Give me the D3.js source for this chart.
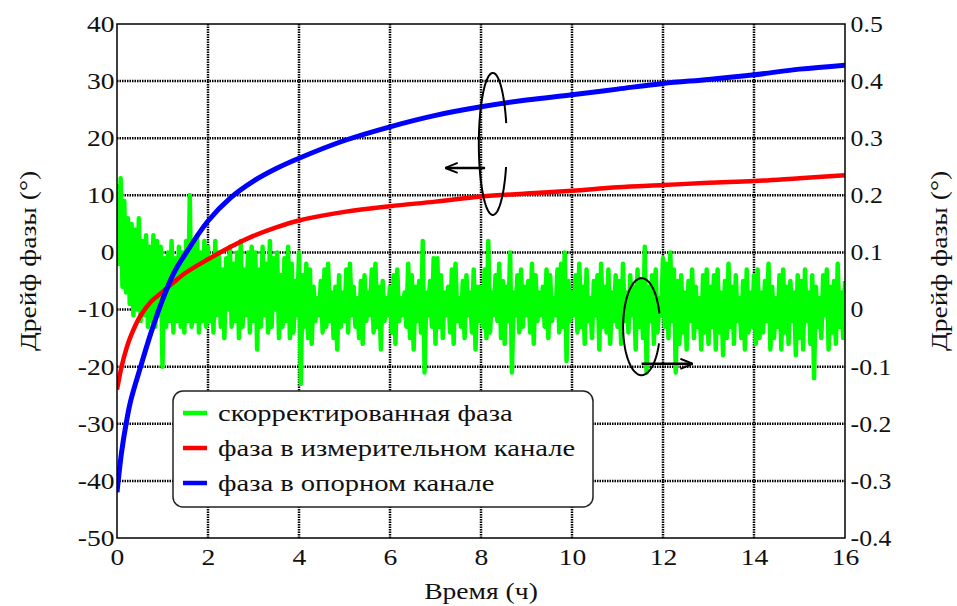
<!DOCTYPE html>
<html>
<head>
<meta charset="utf-8">
<script src="https://cdn.jsdelivr.net/npm/d3@7"></script>
<style>
  body { margin: 0; background: #fff; }
  text { font-family: "Liberation Serif", "Times New Roman", serif; fill: #111; }
</style>
</head>
<body>
<svg id="chart" width="957" height="606"></svg>
<script>
var width = 957, height = 606;
var margin = { top: 24, left: 117, right: 112, bottom: 68 }
var w = width - margin.left - margin.right
var h = height - margin.top - margin.bottom

// x ticks (hours), left and right y ticks
var xTicks = [0, 2, 4, 6, 8, 10, 12, 14, 16]
var yTicks = [-50, -40, -30, -20, -10, 0, 10, 20, 30, 40]
var y2Ticks = [-0.4, -0.3, -0.2, -0.1, 0, 0.1, 0.2, 0.3, 0.4, 0.5]

var seriesNames = ["скорректированная фаза", "фаза в измерительном канале", "фаза в опорном канале"]
var seriesColors = ["#00ff00", "#ff0000", "#0000ff"]

// reference channel (blue) and measuring channel (red), read at these times
var smoothT = [0, 0.1, 0.2, 0.3, 0.5, 0.75, 1, 1.25, 1.5, 2, 2.5, 3, 3.5, 4, 5, 6, 7, 8, 9, 10, 11, 12, 13, 14, 15, 16]
var bluePhase = [-42, -35, -30, -26, -20.5, -14, -8.3, -3.6, -0.3, 5.5, 9.6, 12.5, 14.7, 16.5, 19.6, 22, 24, 25.5, 26.7, 27.6, 28.6, 29.6, 30.3, 31.1, 32.1, 32.8]
var redPhase = [-24, -20, -17, -14.7, -11.3, -8.6, -6.9, -5.2, -3.6, -1.2, 1, 2.9, 4.4, 5.6, 7.1, 8.1, 8.9, 9.8, 10.3, 10.8, 11.4, 11.8, 12.2, 12.5, 13, 13.5]

// corrected phase (green), one value every 0.04 h, one row per hour
var greenStep = 0.04
var greenPhase = [
  12, -2, 13, -6, 9, -7, 6, -9, 5, -11, 4, -10, 6, -12, 2, -11, 3, -13, 1, -12, 3, -13, 2, -11, 1,
  -20, -1, -13, 0, -12, 2, -14, -1, -12, 1, -13, 0, -14, 2, -12, 10, -13, 1, -12, 3, -14, 0, -12, 2, -13,
  1, -12, -1, -14, 2, -11, 0, -13, -3, -15, -1, -10, 1, -13, -2, -12, 0, -15, 2, -13, -3, -11, 0, -14, 1,
  -12, 0, -17, -3, -13, 1, -11, -2, -14, 2, -13, -1, -10, 0, -15, -4, -13, -1, -12, 1, -15, -2, -14, -5, -11,
  0, -23, -4, -13, -2, -15, -3, -16, -6, -12, -8, -11, -5, -14, -3, -13, -2, -12, -7, -15, -6, -17, -4, -13, -7,
  -12, -3, -14, -2, -11, -6, -13, -8, -15, -5, -16, -4, -12, -7, -11, -3, -14, -2, -13, -6, -17, -5, -12, -8, -11,
  -6, -14, -4, -16, -3, -12, -8, -11, -7, -13, -2, -15, -4, -17, -6, -12, -5, -14, 2, -21, -7, -11, -5, -13, -1,
  -16, -1, -13, -4, -15, -7, -11, -6, -14, -3, -16, -2, -12, -8, -13, -5, -15, -4, -11, -7, -14, -3, -17, -6, -12,
  -6, -13, -3, -15, 2, -14, -7, -11, -4, -12, -2, -15, -5, -16, -6, -12, 0, -21, -7, -11, -4, -14, -3, -13, -6,
  -11, -5, -14, -2, -16, -4, -12, -7, -11, -6, -13, -3, -15, -4, -12, -8, -11, -3, -14, -2, -13, 0, -19, -5, -12,
  -7, -11, -4, -14, -2, -13, -6, -16, -3, -12, -8, -15, -5, -11, -4, -17, -2, -13, -6, -14, -3, -16, -7, -12, -4,
  -13, -5, -16, -2, -12, -7, -14, -4, -11, -6, -17, -3, -13, -5, -15, 1, -21, -6, -12, -4, -16, -3, -14, -8, -11,
  -1, -13, -2, -15, 0, -12, -3, -21, -5, -16, -4, -14, -7, -17, -5, -12, -3, -15, -6, -13, -8, -17, -4, -14, -3,
  -16, -6, -13, -4, -17, -3, -14, -7, -18, -5, -15, -2, -13, -6, -16, -4, -12, -8, -15, -5, -17, -3, -14, -7, -13,
  -4, -16, -3, -15, -7, -14, -5, -12, -2, -17, -6, -15, -8, -13, -4, -17, -3, -14, -6, -16, -5, -12, -7, -18, -4,
  -15, -5, -17, -3, -12, -7, -16, -4, -22, -6, -13, -8, -15, -4, -11, -3, -17, -6, -14, -5, -16, -2, -13, -7, -15,
  -5
]

var stretch = 1.2

var svg = d3.select("#chart")
var g = svg.append("g").attr("transform", "translate(" + margin.left + "," + margin.top + ")")

var x = d3.scaleLinear().domain([0, 16]).range([0, w])
var y = d3.scaleLinear().domain([-50, 40]).range([h, 0])
var y2 = d3.scaleLinear().domain([-0.4, 0.5]).range([h, 0])

// grid
g.append("g").selectAll("line")
    .data(xTicks.slice(1, -1))
    .join("line")
    .attr("x1", d => x(d)).attr("x2", d => x(d))
    .attr("y1", 0).attr("y2", h)
    .attr("stroke", "#000").attr("stroke-width", 2.5)
    .attr("stroke-dasharray", "1.5,1")
g.append("g").selectAll("line")
    .data(yTicks.slice(1, -1))
    .join("line")
    .attr("x1", 0).attr("x2", w)
    .attr("y1", d => y(d)).attr("y2", d => y(d))
    .attr("stroke", "#000").attr("stroke-width", 2.5)
    .attr("stroke-dasharray", "1.5,1")

var clip = svg.append("clipPath").attr("id", "plotclip")
clip.append("rect").attr("width", w).attr("height", h)

var line = d3.line().x(d => x(d[0])).y(d => y(d[1]))
var smoothLine = d3.line().x(d => x(d[0])).y(d => y(d[1])).curve(d3.curveCatmullRom)

var plot = g.append("g").attr("clip-path", "url(#plotclip)")

plot.append("path")
    .datum(greenPhase.map((v, i) => [i * greenStep, v]))
    .attr("d", line)
    .attr("fill", "none")
    .attr("stroke", seriesColors[0])
    .attr("stroke-width", 4.5)
    .attr("stroke-linejoin", "round")

plot.append("path")
    .datum(smoothT.map((t, i) => [t, redPhase[i]]))
    .attr("d", smoothLine)
    .attr("fill", "none")
    .attr("stroke", seriesColors[1])
    .attr("stroke-width", 4.5)

plot.append("path")
    .datum(smoothT.map((t, i) => [t, bluePhase[i]]))
    .attr("d", smoothLine)
    .attr("fill", "none")
    .attr("stroke", seriesColors[2])
    .attr("stroke-width", 5)

// frame
g.append("rect")
    .attr("width", w).attr("height", h)
    .attr("fill", "none").attr("stroke", "#000").attr("stroke-width", 1.5)

// axes
var fs = "23px"
var plain = d => String(d)
g.append("g")
    .attr("transform", "translate(0," + h + ")")
    .call(d3.axisBottom(x).tickValues(xTicks).tickSize(0).tickPadding(11).tickFormat(plain))
    .call(a => a.select(".domain").remove())
    .selectAll("text")
    .style("font-size", fs)
    .attr("transform", "scale(" + stretch + ",1)")

g.append("g")
    .call(d3.axisLeft(y).tickValues(yTicks).tickSize(0).tickPadding(2).tickFormat(plain))
    .call(a => a.select(".domain").remove())
    .selectAll("text")
    .style("font-size", fs)
    .attr("transform", "scale(" + stretch + ",1)")

g.append("g")
    .attr("transform", "translate(" + w + ",0)")
    .call(d3.axisRight(y2).tickValues(y2Ticks).tickSize(0).tickPadding(5).tickFormat(plain))
    .call(a => a.select(".domain").remove())
    .selectAll("text")
    .style("font-size", fs)
    .attr("transform", "scale(1.12,1)")

svg.selectAll(".tick text").attr("fill", "#111")

// axis titles
svg.append("text")
    .attr("text-anchor", "middle")
    .attr("transform", "translate(" + (margin.left + w / 2) + ",599) scale(" + stretch + ",1)")
    .style("font-size", fs)
    .text("Время (ч)")

svg.append("text")
    .attr("text-anchor", "middle")
    .attr("transform", "translate(36," + (margin.top + h / 2 - 20) + ") rotate(-90) scale(" + stretch + ",1)")
    .style("font-size", fs)
    .text("Дрейф фазы (°)")

svg.append("text")
    .attr("text-anchor", "middle")
    .attr("transform", "translate(947," + (margin.top + h / 2 - 20) + ") rotate(-90) scale(" + stretch + ",1)")
    .style("font-size", fs)
    .text("Дрейф фазы (°)")

// annotations: ellipse with gap + arrow pointing to the axis
var notes = [
  { cx: 8.26, cy: 19.0, rx: 14, ry: 71, gap: [-17, 19], ax1: 8.09, ax2: 7.24, ay: 14.8 },
  { cx: 11.53, cy: -13.0, rx: 18.5, ry: 48.5, gap: [-16, 20], ax1: 11.53, ax2: 12.63, ay: -19.5 }
]

svg.append("defs").append("marker")
    .attr("id", "arrowhead")
    .attr("viewBox", "0 0 10 10")
    .attr("refX", 9).attr("refY", 5)
    .attr("markerWidth", 5).attr("markerHeight", 5)
    .attr("orient", "auto")
    .append("path")
    .attr("d", "M0,1 L10,5 L0,9")
    .attr("fill", "none").attr("stroke", "#000").attr("stroke-width", 1.6)

notes.forEach(n => {
    var pts = d3.range(n.gap[1], 360 + n.gap[0] + 1, 3).map(a => {
        var r = a * Math.PI / 180
        return [x(n.cx) + n.rx * Math.cos(r), y(n.cy) + n.ry * Math.sin(r)]
    })
    g.append("path")
        .attr("d", d3.line()(pts))
        .attr("fill", "none").attr("stroke", "#000").attr("stroke-width", 2)
    g.append("line")
        .attr("x1", x(n.ax1)).attr("x2", x(n.ax2))
        .attr("y1", y(n.ay)).attr("y2", y(n.ay))
        .attr("stroke", "#000").attr("stroke-width", 2.5)
        .attr("marker-end", "url(#arrowhead)")
})

// legend
var legend = svg.append("g").attr("transform", "translate(173,391)")
legend.append("rect")
    .attr("width", 420).attr("height", 116)
    .attr("rx", 10)
    .attr("fill", "#fff").attr("stroke", "#222").attr("stroke-width", 1.5)

var items = legend.selectAll(".item")
    .data(seriesNames)
    .join("g")
    .attr("class", "item")
    .attr("transform", (d, i) => "translate(0," + (22 + i * 35) + ")")

items.append("line")
    .attr("x1", 10).attr("x2", 34)
    .attr("stroke", (d, i) => seriesColors[i])
    .attr("stroke-width", 4.5)

items.append("text")
    .attr("transform", "translate(45,8) scale(1.19,1)")
    .style("font-size", "24px")
    .text(d => d)
</script>
</body>
</html>
